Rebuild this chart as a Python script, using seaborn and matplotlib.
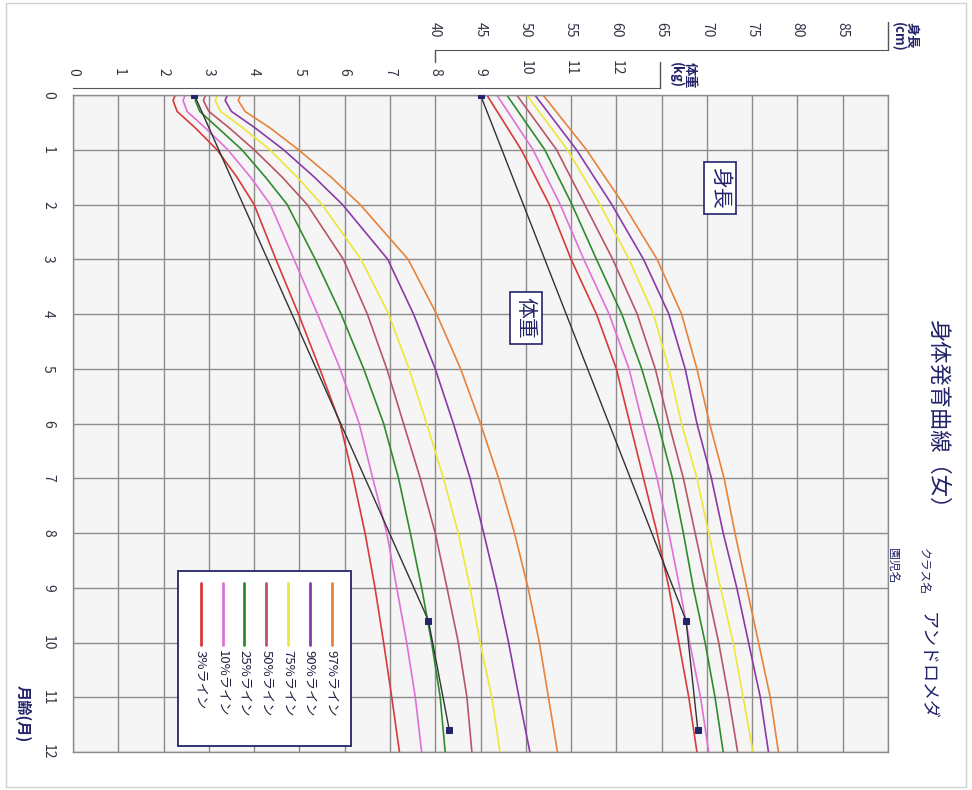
import matplotlib
matplotlib.use("Agg")
import pandas as pd
import matplotlib.pyplot as plt
import seaborn as sns
from matplotlib.patches import Rectangle

# percentile lines, order 97 -> 3
LINE_NAMES = ["97%ライン", "90%ライン", "75%ライン", "50%ライン", "25%ライン", "10%ライン", "3%ライン"]
LINE_COLORS = ["#e8823a", "#8a3aa8", "#eee63a", "#b85566", "#2e8b2e", "#e070d8", "#d83a3a"]

# weight (kg)
W_MONTHS = [0, 0.1, 0.3, 0.6, 1, 1.5, 2, 3, 4, 5, 6, 7, 8, 9, 10, 11, 12]
W97 = [3.70, 3.65, 3.80, 4.35, 4.98, 5.70, 6.34, 7.40, 8.03, 8.56, 9.00, 9.40, 9.75, 10.05, 10.30, 10.50, 10.70]
W90 = [3.41, 3.36, 3.50, 4.02, 4.65, 5.33, 5.95, 6.95, 7.52, 8.00, 8.40, 8.77, 9.07, 9.36, 9.62, 9.85, 10.09]
W75 = [3.19, 3.14, 3.26, 3.75, 4.35, 4.95, 5.50, 6.36, 6.97, 7.42, 7.81, 8.18, 8.51, 8.77, 8.99, 9.25, 9.43]
W50 = [2.93, 2.88, 3.00, 3.45, 4.00, 4.62, 5.17, 5.97, 6.50, 6.93, 7.30, 7.67, 8.00, 8.26, 8.51, 8.70, 8.81]
W25 = [2.75, 2.70, 2.80, 3.20, 3.73, 4.25, 4.73, 5.35, 5.92, 6.42, 6.86, 7.19, 7.45, 7.70, 7.92, 8.11, 8.22]
W10 = [2.48, 2.43, 2.52, 2.92, 3.42, 3.92, 4.36, 4.88, 5.40, 5.90, 6.32, 6.62, 6.93, 7.15, 7.37, 7.56, 7.70]
W03 = [2.26, 2.21, 2.30, 2.70, 3.18, 3.62, 4.00, 4.48, 4.98, 5.45, 5.90, 6.19, 6.45, 6.67, 6.86, 7.04, 7.21]

# height (cm)
H_MONTHS = [0, 1, 2, 3, 4, 5, 6, 7, 8, 9, 10, 11, 12]
H97 = [51.9, 56.7, 60.8, 64.5, 67.2, 68.9, 70.3, 71.9, 73.1, 74.4, 75.7, 77.0, 77.9]
H90 = [51.0, 55.6, 59.5, 63.0, 65.8, 67.6, 68.9, 70.5, 71.8, 73.3, 74.6, 75.9, 76.8]
H75 = [50.1, 54.6, 58.2, 61.4, 64.1, 65.8, 67.2, 68.9, 70.2, 71.5, 72.9, 74.0, 75.1]
H50 = [49.0, 53.4, 56.5, 59.6, 62.3, 64.3, 65.8, 67.4, 68.7, 70.0, 71.3, 72.4, 73.4]
H25 = [47.9, 52.1, 55.1, 57.8, 60.6, 62.8, 64.6, 66.2, 67.4, 68.5, 69.8, 70.9, 71.8]
H10 = [46.8, 50.8, 53.8, 56.4, 59.2, 61.4, 62.9, 64.5, 65.8, 67.0, 68.1, 69.3, 70.2]
H03 = [45.7, 49.5, 52.6, 55.0, 57.8, 60.0, 61.5, 63.0, 64.5, 65.8, 66.9, 68.0, 68.9]

# the child's own measurements
CHILD_MONTHS = [0, 9.6, 11.6]
CHILD_WEIGHT = [2.68, 7.85, 8.31]
CHILD_HEIGHT = [45.0, 67.7, 69.0]

CM_PER_KG = 5  # height scale is drawn 5 cm per 1 kg
NAVY = "#24246a"
GRID = "#8c8c8c"


def long_df(months, series, unit_div=1):
    rows = []
    for name, vals in zip(LINE_NAMES, series):
        for m, v in zip(months, vals):
            rows.append({"month": m, "pos": v / unit_div, "line": name})
    return pd.DataFrame(rows)


sns.set_style("white")
plt.rcParams["font.family"] = ["Noto Sans CJK JP", "DejaVu Sans"]

fig = plt.figure(figsize=(9.72, 7.9), dpi=100)
ax = fig.add_axes([73 / 972, 38 / 790, 815 / 972, 657 / 790])
ax.set_facecolor("#f5f5f5")

palette = dict(zip(LINE_NAMES, LINE_COLORS))
df_w = long_df(W_MONTHS, [W97, W90, W75, W50, W25, W10, W03])
df_h = long_df(H_MONTHS, [H97, H90, H75, H50, H25, H10, H03], CM_PER_KG)

for df in (df_w, df_h):
    sns.lineplot(data=df, x="pos", y="month", hue="line", palette=palette,
                 orient="y", estimator=None, legend=False, lw=1.2, ax=ax)

child_w = pd.DataFrame({"month": CHILD_MONTHS, "pos": CHILD_WEIGHT})
child_h = pd.DataFrame({"month": CHILD_MONTHS, "pos": [h / CM_PER_KG for h in CHILD_HEIGHT]})
for df in (child_w, child_h):
    sns.lineplot(data=df, x="pos", y="month", orient="y", estimator=None,
                 color="#333333", lw=1.0, marker="s", markersize=5,
                 markerfacecolor=NAVY, markeredgecolor=NAVY, ax=ax, zorder=4)

ax.set_xlim(0, 18)
ax.set_ylim(12, 0)
ax.set_xticks(range(19))
ax.set_yticks(range(13))
ax.grid(True, color=GRID, lw=1)
ax.tick_params(axis="x", bottom=False, labelbottom=False, top=False, labeltop=False)
ax.tick_params(axis="y", length=0, pad=13, labelrotation=-90, labelsize=10, labelcolor="#333344")
for lab in ax.get_yticklabels():
    lab.set_va("center")
for s in ax.spines.values():
    s.set_color(GRID)
    s.set_linewidth(1)
ax.set_xlabel("")
ax.set_ylabel("")

# weight scale (kg)
sec_w = ax.secondary_xaxis(1 + 7 / 657)
sec_w.set_xticks(range(13))
sec_w.tick_params(length=0, pad=9, labelrotation=-90, labelsize=10, labelcolor="#333344")
sec_w.spines["top"].set_bounds(0, 12.97)
sec_w.spines["top"].set_color("#555555")

# height scale (cm)
sec_h = ax.secondary_xaxis(1 + 45 / 657, functions=(lambda k: k * CM_PER_KG, lambda c: c / CM_PER_KG))
sec_h.set_xticks(range(40, 90, 5))
sec_h.tick_params(length=0, pad=9, labelrotation=-90, labelsize=10, labelcolor="#333344")
sec_h.spines["top"].set_bounds(40, 90)
sec_h.spines["top"].set_color("#555555")

xt = ax.get_xaxis_transform()
ax.plot([12.97, 12.97], [1 + 7 / 657, 1 + 33 / 657], transform=xt, color="#555555", lw=1, clip_on=False)
ax.plot([8, 8], [1 + 45 / 657, 1 + 33 / 657], transform=xt, color="#555555", lw=1, clip_on=False)
ax.plot([18, 18], [1 + 45 / 657, 1 + 73 / 657], transform=xt, color="#555555", lw=1, clip_on=False)

ax.text(13.15, 1 + 20 / 657, "体重\n(kg)", transform=xt, rotation=-90, ha="left", va="center",
        fontsize=9.5, color=NAVY, linespacing=1.0, fontweight="bold")
ax.text(18.05, 1 + 58 / 657, "身長\n(cm)", transform=xt, rotation=-90, ha="left", va="center",
        fontsize=9.5, color=NAVY, linespacing=1.0, fontweight="bold")

# labels inside the grid
box = dict(boxstyle="square,pad=0.25", fc="white", ec=NAVY, lw=1.2)
ax.text(14.29, 1.7, "身長", rotation=-90, ha="center", va="center", fontsize=15, color=NAVY, bbox=box, zorder=6)
ax.text(10.0, 4.07, "体重", rotation=-90, ha="center", va="center", fontsize=15, color=NAVY, bbox=box, zorder=6)

# month axis label
ax.text(-0.062, 11.3, "月齢(月)", transform=ax.get_yaxis_transform(), rotation=-90,
        ha="center", va="center", fontsize=11, color=NAVY, fontweight="bold")

# hand-made legend (rotated like the rest of the sheet)
at = ax.transAxes
ax.add_patch(Rectangle((0.1288, 0.0091), 0.2123, 0.2664, transform=at, fc="white",
                       ec=NAVY, lw=1.3, zorder=6))
for i, (name, color) in enumerate(zip(LINE_NAMES[::-1], LINE_COLORS[::-1])):
    xf = 0.1567 + i * 0.02675
    ax.plot([xf, xf], [0.2572, 0.1629], transform=at, color=color, lw=2, zorder=7, clip_on=False)
    ax.text(xf, 0.1555, name, transform=at, rotation=-90, ha="center", va="top",
            fontsize=9.5, color="#222244", zorder=7)

# title block
fig.text(938 / 972, 1 - 420 / 790, "身体発育曲線（女）", rotation=-90, ha="center", va="center",
         fontsize=16, color=NAVY)
fig.text(923 / 972, 1 - 548 / 790, "クラス名", rotation=-90, ha="center", va="top", fontsize=8.5, color=NAVY)
fig.text(927 / 972, 1 - 612 / 790, "アンドロメダ", rotation=-90, ha="center", va="top", fontsize=13, color=NAVY)
fig.text(893 / 972, 1 - 548 / 790, "園児名", rotation=-90, ha="center", va="top", fontsize=8.5, color=NAVY)

fig.patches.append(Rectangle((6 / 972, 3 / 790), 960 / 972, 784 / 790, transform=fig.transFigure,
                             fill=False, ec="#d0d0d0", lw=1))

fig.savefig("out.png", dpi=100)
